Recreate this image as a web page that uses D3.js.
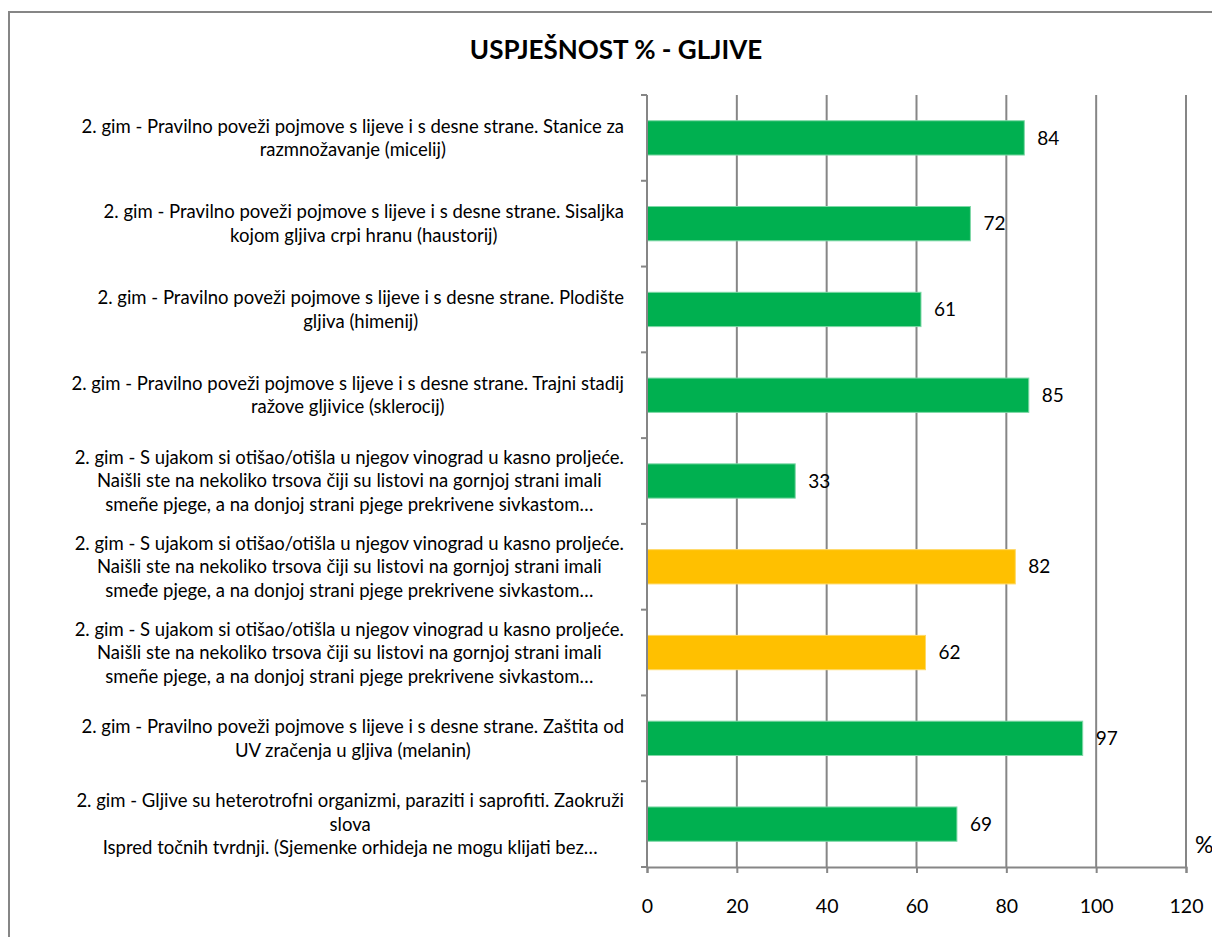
<!DOCTYPE html>
<html>
<head>
<meta charset="utf-8">
<script src="https://cdn.jsdelivr.net/npm/d3@7"></script>
<style>
  body { margin: 0; background: #fff; }
  svg { display: block; }
</style>
</head>
<body>
<script>
// categories, wrapped the way the original chart wraps them
const categories = [
  ["2. gim - Pravilno poveži pojmove s lijeve i s desne strane. Stanice za", "razmnožavanje (micelij)"],
  ["2. gim - Pravilno poveži pojmove s lijeve i s desne strane. Sisaljka", "kojom gljiva crpi hranu (haustorij)"],
  ["2. gim - Pravilno poveži pojmove s lijeve i s desne strane. Plodište", "gljiva (himenij)"],
  ["2. gim - Pravilno poveži pojmove s lijeve i s desne strane. Trajni stadij", "ražove gljivice (sklerocij)"],
  ["2. gim - S ujakom si otišao/otišla u njegov vinograd u kasno proljeće.", "Naišli ste na nekoliko trsova čiji su listovi na gornjoj strani imali", "smeñe pjege, a na donjoj strani pjege prekrivene sivkastom…"],
  ["2. gim - S ujakom si otišao/otišla u njegov vinograd u kasno proljeće.", "Naišli ste na nekoliko trsova čiji su listovi na gornjoj strani imali", "smeđe pjege, a na donjoj strani pjege prekrivene sivkastom…"],
  ["2. gim - S ujakom si otišao/otišla u njegov vinograd u kasno proljeće.", "Naišli ste na nekoliko trsova čiji su listovi na gornjoj strani imali", "smeñe pjege, a na donjoj strani pjege prekrivene sivkastom…"],
  ["2. gim - Pravilno poveži pojmove s lijeve i s desne strane. Zaštita od", "UV zračenja u gljiva (melanin)"],
  ["2. gim - Gljive su heterotrofni organizmi, paraziti i saprofiti. Zaokruži", "slova", "Ispred točnih tvrdnji. (Sjemenke orhideja ne mogu klijati bez…"]
];
const values = [84, 72, 61, 85, 33, 82, 62, 97, 69];
const barColors = ["#00B050", "#00B050", "#00B050", "#00B050", "#00B050", "#FFC000", "#FFC000", "#00B050", "#00B050"];
const xTicks = [0, 20, 40, 60, 80, 100, 120];
const title = "USPJEŠNOST % - GLJIVE";

const width = 1212, height = 937;
const plotL = 647, plotR = 1186, plotT = 95, plotB = 867;
const grey = "#868686";
const font = "Lato, 'Open Sans', sans-serif";

const svg = d3.select("body").append("svg")
  .attr("width", width)
  .attr("height", height);

// chart frame
svg.append("rect")
  .attr("x", 9).attr("y", 12)
  .attr("width", width + 20).attr("height", height + 20)
  .attr("fill", "#fff")
  .attr("stroke", grey).attr("stroke-width", 2);

svg.append("text")
  .attr("x", 616).attr("y", 59)
  .attr("text-anchor", "middle")
  .style("font-family", font)
  .style("font-weight", "bold")
  .style("font-size", "26px")
  .text(title);

const x = d3.scaleLinear().domain([0, 120]).range([plotL, plotR]);
const y = d3.scaleBand().domain(d3.range(values.length)).range([plotT, plotB]).paddingInner(0.6).paddingOuter(0.3);
const band = d3.scaleBand().domain(d3.range(values.length)).range([plotT, plotB]);

// vertical gridlines
svg.append("g").selectAll("line")
  .data(xTicks.slice(1))
  .join("line")
  .attr("x1", d => x(d)).attr("x2", d => x(d))
  .attr("y1", plotT).attr("y2", plotB)
  .attr("stroke", grey).attr("stroke-width", 2);

// bars
svg.append("g").selectAll("rect")
  .data(values)
  .join("rect")
  .attr("x", x(0))
  .attr("y", (d, i) => y(i))
  .attr("width", d => x(d) - x(0))
  .attr("height", y.bandwidth())
  .attr("fill", (d, i) => barColors[i])
  .attr("stroke", (d, i) => barColors[i] === "#FFC000" ? "#FFD966" : "#7FD8A7")
  .attr("stroke-width", 1);

// value labels
svg.append("g").selectAll("text")
  .data(values)
  .join("text")
  .attr("x", d => x(d) + 13)
  .attr("y", (d, i) => y(i) + y.bandwidth() / 2)
  .attr("dy", "0.35em")
  .style("font-family", font)
  .style("font-size", "19px")
  .text(d => d);

// x axis
const xAxis = d3.axisBottom(x).tickValues(xTicks).tickSize(6).tickPadding(26);
const gx = svg.append("g")
  .attr("transform", `translate(0,${plotB})`)
  .call(xAxis);
gx.select(".domain").attr("stroke", grey).attr("stroke-width", 2);
gx.selectAll(".tick line").attr("stroke", grey).attr("stroke-width", 2);
gx.selectAll(".tick text")
  .style("font-family", font)
  .style("font-size", "19.5px")
  .attr("fill", "#000");

// y axis: ticks at band boundaries
const yBounds = d3.range(values.length + 1).map(i => plotT + i * band.step());
svg.append("line")
  .attr("x1", plotL).attr("x2", plotL).attr("y1", plotT).attr("y2", plotB)
  .attr("stroke", grey).attr("stroke-width", 2);
svg.append("g").selectAll("line")
  .data(yBounds)
  .join("line")
  .attr("x1", plotL - 6).attr("x2", plotL)
  .attr("y1", d => d).attr("y2", d => d)
  .attr("stroke", grey).attr("stroke-width", 2);

// category labels: block right-aligned at the axis, lines centred in block
const lineH = 23.5;
const labelRight = 624;
const lab = svg.append("g")
  .style("font-family", font)
  .style("font-size", "18.5px");
categories.forEach((lines, i) => {
  const g = lab.append("text").attr("text-anchor", "middle");
  const cy = band(i) + band.step() / 2;
  const ts = lines.map((l, k) => g.append("tspan")
    .attr("y", cy + (k - (lines.length - 1) / 2) * lineH)
    .attr("dy", "0.35em")
    .text(l));
  const w = d3.max(ts, t => t.node().getComputedTextLength());
  ts.forEach(t => t.attr("x", labelRight - w / 2));
});

// unit label
svg.append("text")
  .attr("x", 1195).attr("y", 845)
  .attr("dy", "0.35em")
  .style("font-family", font)
  .style("font-size", "23px")
  .text("%");
</script>
</body>
</html>
